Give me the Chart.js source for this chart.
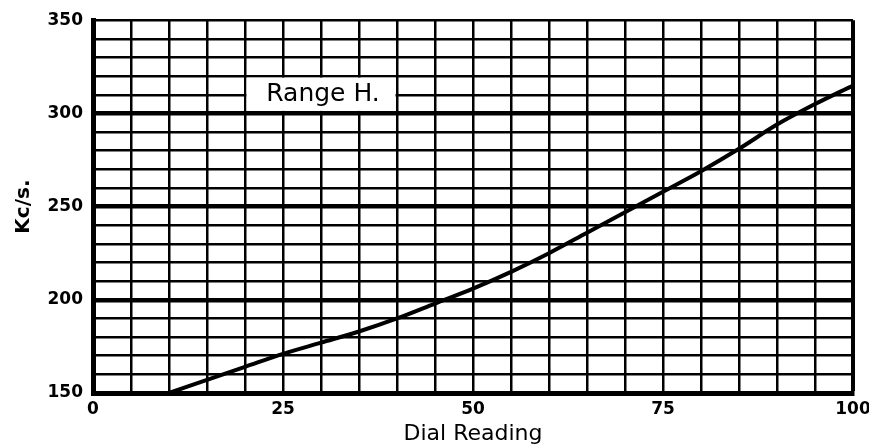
<!DOCTYPE html>
<html lang="en">
<head>
  <meta charset="UTF-8">
  <title>Range H.</title>
  <script src="https://cdn.jsdelivr.net/npm/chart.js"></script>
  <style>
    body { margin: 0; background: #fff; }
    canvas { display: block; }
  </style>
</head>
<body>
  <canvas id="chart" width="869" height="447"></canvas>
  <script>
    // dial reading vs frequency
    const dial = [10, 15, 20, 25, 30, 35, 40, 45, 50, 55, 60, 65, 70, 75, 80, 85, 90, 95, 100];
    const kcs  = [150, 157, 164, 171, 177, 183, 190, 198, 206, 215, 225, 236, 247, 258, 269, 281, 294, 305, 315];
    const xTicks = [0, 25, 50, 75, 100];
    const yTicks = [150, 200, 250, 300, 350];

    const labelFont = { family: 'DejaVu Sans', size: 17, weight: 'bold' };

    // white label box over the grid
    const rangeLabel = {
      id: 'rangeLabel',
      afterDatasetsDraw(chart) {
        const { ctx, scales: { x, y } } = chart;
        const l = x.getPixelForValue(20) + 1.5, r = x.getPixelForValue(40) - 1.5;
        const t = y.getPixelForValue(320) + 1.5, b = y.getPixelForValue(300) - 2.5;
        ctx.save();
        ctx.fillStyle = '#fff';
        ctx.fillRect(l, t, r - l, b - t);
        ctx.fillStyle = '#000';
        ctx.font = '25px "DejaVu Sans"';
        ctx.textAlign = 'center';
        ctx.textBaseline = 'middle';
        ctx.fillText('Range H.', (l + r) / 2 + 2, (t + b) / 2);
        ctx.restore();
      }
    };

    new Chart(document.getElementById('chart'), {
      type: 'line',
      data: {
        datasets: [{
          data: dial.map((d, i) => ({ x: d, y: kcs[i] })),
          borderColor: '#000',
          borderWidth: 4,
          pointRadius: 0,
          cubicInterpolationMode: 'monotone',
          fill: false
        }]
      },
      options: {
        responsive: false,
        animation: false,
        layout: { padding: { left: 0, right: 16, top: 18, bottom: 0 } },
        plugins: { legend: { display: false }, tooltip: { enabled: false } },
        scales: {
          x: {
            type: 'linear',
            min: 0, max: 100,
            afterFit(s) { s.height = 54; s.paddingRight = 0; },
            ticks: {
              stepSize: 5, color: '#000', font: labelFont, padding: 6, maxRotation: 0,
              autoSkip: false,
              callback: v => xTicks.includes(v) ? String(v) : ''
            },
            grid: {
              color: '#000', drawTicks: false,
              lineWidth: c => (c.tick && (c.tick.value === 100)) ? 4 : 2.5
            },
            border: { display: true, color: '#000', width: 5 },
            title: {
              display: true, text: 'Dial Reading', color: '#000',
              font: { family: 'DejaVu Sans', size: 22 }, padding: { top: -8, bottom: 0 }
            }
          },
          y: {
            min: 150, max: 350,
            afterFit(s) { s.width = 93; },
            ticks: {
              stepSize: 10, color: '#000', font: labelFont, padding: 10,
              autoSkip: false,
              callback: v => yTicks.includes(v) ? String(v) : ''
            },
            grid: {
              color: '#000', drawTicks: false,
              lineWidth: c => (c.tick && [200, 250, 300].includes(c.tick.value)) ? 4.5 : 2.5
            },
            border: { display: true, color: '#000', width: 5 },
            title: {
              display: true, text: 'Kc/s.', color: '#000',
              font: { family: 'DejaVu Sans', size: 20, weight: 'bold' }, padding: { top: 12, bottom: 0 }
            }
          }
        }
      },
      plugins: [rangeLabel]
    });
  </script>
</body>
</html>
